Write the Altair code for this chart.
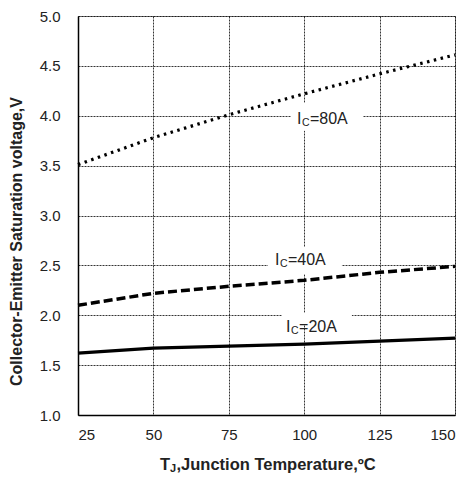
import altair as alt
import pandas as pd

temps = [25, 50, 75, 100, 125, 150]
v80 = [3.51, 3.78, 4.01, 4.22, 4.42, 4.61]
v40 = [2.10, 2.22, 2.29, 2.35, 2.43, 2.49]
v20 = [1.62, 1.67, 1.69, 1.71, 1.74, 1.77]

series = ["80A", "40A", "20A"]
label_rest = ["=80A", "=40A", "=20A"]
label_t = [97.6, 90.3, 94.0]
label_v = [3.97, 2.557, 1.887]
box_t1 = [95.6, 88.0, 92.6]
box_t2 = [119.5, 112.5, 115.8]
box_v1 = [3.85, 2.41, 1.907]
box_v2 = [4.13, 2.685, 2.025]

x_ticks = [25, 50, 75, 100, 125, 150]
y_ticks = [1.0, 1.5, 2.0, 2.5, 3.0, 3.5, 4.0, 4.5, 5.0]

FONT = "Liberation Sans"

rows = []
for s, vals in zip(series, [v80, v40, v20]):
    for t, v in zip(temps, vals):
        rows.append({"series": s, "T": t, "V": v})
df = pd.DataFrame(rows)

labels = pd.DataFrame({
    "series": series, "rest": label_rest, "T": label_t, "V": label_v,
    "t1": box_t1, "t2": box_t2, "v1": box_v1, "v2": box_v2,
})

xs = alt.Scale(domain=[25, 150], nice=False, zero=False)
ys = alt.Scale(domain=[1, 5], nice=False, zero=False)

xaxis = alt.Axis(values=x_ticks, title=None, grid=True, ticks=False,
                 labelFont=FONT, labelFontSize=15, labelColor="#222",
                 labelPadding=12, domainColor="#000", domainWidth=1.5,
                 gridColor="#000", gridDash=[2, 1], gridWidth=0.8)
yaxis = alt.Axis(values=y_ticks, format=".1f", grid=True, ticks=False,
                 title="Collector-Emitter Saturation voltage,V",
                 titleFont=FONT, titleFontSize=16, titleFontWeight="bold",
                 titleColor="#222", titleX=-62, titleY=225, titleAngle=270,
                 titleAlign="center", titleBaseline="middle",
                 labelFont=FONT, labelFontSize=15, labelColor="#222",
                 labelPadding=18, domainColor="#000", domainWidth=1.5,
                 gridColor="#000", gridDash=[2, 1], gridWidth=0.8)

base = alt.Chart(df).encode(
    x=alt.X("T:Q", scale=xs, axis=xaxis),
    y=alt.Y("V:Q", scale=ys, axis=yaxis),
)

boxes = alt.Chart(labels).mark_rect(color="white").encode(
    x=alt.X("t1:Q", scale=xs), x2="t2:Q",
    y=alt.Y("v1:Q", scale=ys), y2="v2:Q",
)

line80 = base.transform_filter(alt.datum.series == "80A").mark_line(
    color="black", strokeWidth=3.2, strokeDash=[2.5, 4.5])
line40 = base.transform_filter(alt.datum.series == "40A").mark_line(
    color="black", strokeWidth=3.5, strokeDash=[9, 4])
line20 = base.transform_filter(alt.datum.series == "20A").mark_line(
    color="black", strokeWidth=3.2)

lab = alt.Chart(labels).encode(x=alt.X("T:Q", scale=xs), y=alt.Y("V:Q", scale=ys))
t_i = lab.mark_text(text="I", align="left", baseline="middle", font=FONT,
                    fontSize=16, color="#222")
t_c = lab.mark_text(text="C", align="left", baseline="middle", font=FONT,
                    fontSize=10.5, color="#222", dx=5, dy=4)
t_rest = lab.mark_text(align="left", baseline="middle", font=FONT,
                       fontSize=16, color="#222", dx=13).encode(text="rest:N")

tdf = pd.DataFrame({"a": [0]})
tx = alt.Chart(tdf)
xt1 = tx.mark_text(text="T", align="left", baseline="middle", font=FONT,
                   fontSize=16.5, fontWeight="bold", color="#222").encode(
    x=alt.value(82), y=alt.value(449))
xt2 = tx.mark_text(text="J", align="left", baseline="middle", font=FONT,
                   fontSize=11, fontWeight="bold", color="#222").encode(
    x=alt.value(92), y=alt.value(453))
xt3 = tx.mark_text(text=",Junction Temperature,ºC", align="left",
                   baseline="middle", font=FONT, fontSize=16.5,
                   fontWeight="bold", color="#222").encode(
    x=alt.value(98.5), y=alt.value(449))

chart = alt.layer(
    base.mark_line(opacity=0), boxes, line80, line40, line20,
    t_i, t_c, t_rest, xt1, xt2, xt3,
).properties(
    width=377, height=399,
    autosize=alt.AutoSizeParams(type="none"),
    padding={"left": 70, "top": 8, "right": 5, "bottom": 60},
).configure_view(stroke="#999", strokeWidth=1)

chart.save("out.html", embed_options={"renderer": "svg", "actions": False})
